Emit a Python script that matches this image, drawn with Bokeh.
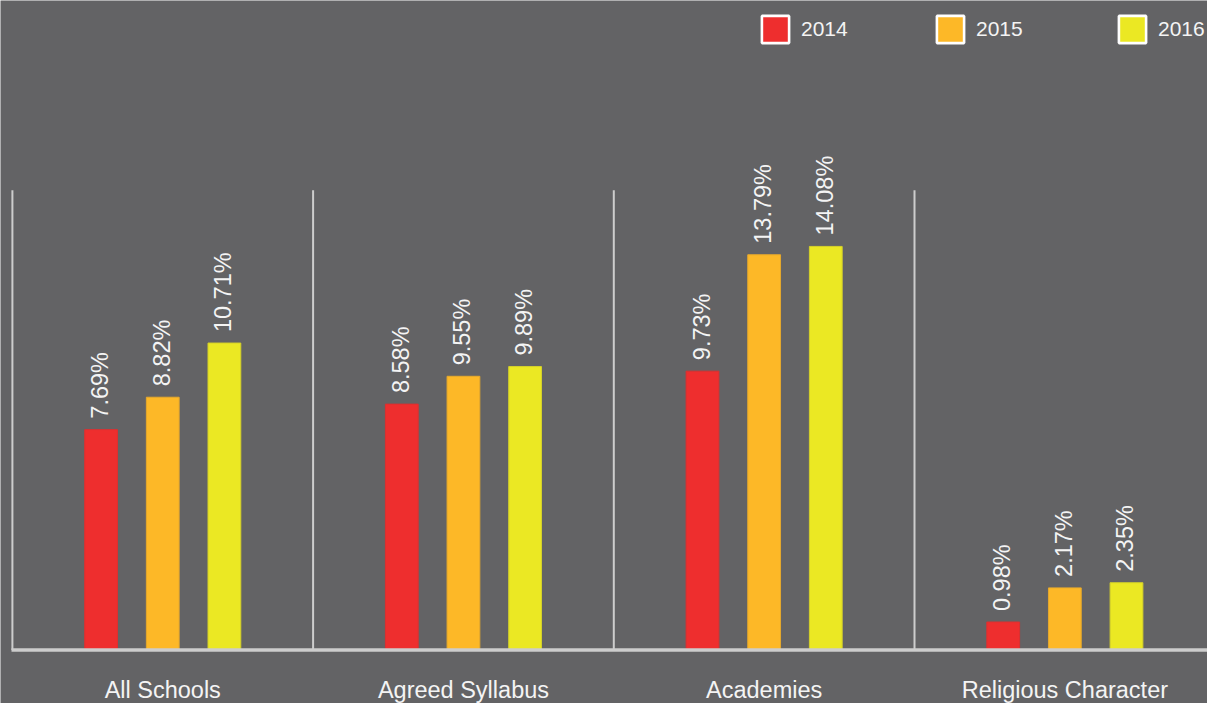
import numpy as np
from bokeh.plotting import figure
from bokeh.models import Range1d, ColumnDataSource, Legend, LegendItem
from bokeh.core.properties import value
from bokeh.embed import file_html
from bokeh.resources import INLINE

# ---- data ----
categories = ["All Schools", "Agreed Syllabus", "Academies", "Religious Character"]
years = ["2014", "2015", "2016"]
v2014 = [7.69, 8.58, 9.73, 0.98]
v2015 = [8.82, 9.55, 13.79, 2.17]
v2016 = [10.71, 9.89, 14.08, 2.35]
series = [v2014, v2015, v2016]

# ---- style ----
BG = "#636365"
colors = ["#ee2e2e", "#fdb827", "#ebe823"]
edges = ["#dc3030", "#e6a92c", "#d4d12a"]
LINE = "#cdcdcd"
TXT = "#f4f4f4"
FONT = "Liberation Sans"

W, H = 1207, 703
left_px = 11.9          # pixel position of the first group boundary
group_px = 300.7        # pixels per group
px_per_unit = 28.67     # pixels per percentage point
base_px = 649.6         # pixel row of the zero line (from top)

offsets = [-0.205, 0.0, 0.205]
bar_w = 0.109

p = figure(width=W, height=H, output_backend="svg", toolbar_location=None,
           x_range=Range1d(-left_px / group_px, (W - left_px) / group_px),
           y_range=Range1d(-(H - base_px) / px_per_unit, base_px / px_per_unit),
           x_axis_type=None, y_axis_type=None, min_border=0)
p.background_fill_color = BG
p.border_fill_color = BG
p.outline_line_color = None
p.xgrid.visible = False
p.ygrid.visible = False

# separators between groups
sep_x = [0, 1, 2, 3]
sep_top = 16.04
p.segment(x0=sep_x, y0=[0] * 4, x1=sep_x, y1=[sep_top] * 4,
          line_color=LINE, line_width=2)

centers = np.arange(len(categories)) + 0.5
for k, vals in enumerate(series):
    xs = centers + offsets[k]
    src = ColumnDataSource(dict(x=xs, top=vals,
                                lab=[f"{v:.2f}%" for v in vals]))
    p.vbar(x="x", top="top", bottom=0, width=bar_w, source=src,
           fill_color=colors[k], line_color=edges[k], line_width=1)
    p.text(x="x", y="top", text="lab", source=src, angle=np.pi / 2,
           text_align="left", text_baseline="middle", y_offset=-11, x_offset=-1,
           text_font=value(FONT), text_font_size="23.5px", text_color=TXT)

# baseline
p.segment(x0=[-0.003], y0=[0], x1=[4.1], y1=[0], line_color=LINE, line_width=3.5)

# category labels
p.text(x=centers, y=[0] * 4, text=categories, y_offset=40,
       text_align="center", text_baseline="middle",
       text_font=value(FONT), text_font_size="23.5px", text_color=TXT)

# legends (one per year, placed like the reference)
GLYPH = 34
leg_x = [758, 933, 1115]
for k, yr in enumerate(years):
    r = p.vbar(x=[np.nan], top=[np.nan], bottom=[np.nan], width=0.1,
               fill_color=colors[k], line_color="white", line_width=2.6)
    leg = Legend(items=[LegendItem(label=yr, renderers=[r])],
                 location=(leg_x[k], H - 12 - GLYPH),
                 orientation="horizontal", padding=0, margin=0, spacing=0,
                 glyph_width=GLYPH, glyph_height=GLYPH, label_height=GLYPH,
                 label_standoff=9, border_line_alpha=0,
                 background_fill_alpha=0,
                 label_text_font=FONT, label_text_font_size="21px",
                 label_text_color=TXT)
    p.add_layout(leg)

open("out.html", "w").write(file_html(p, INLINE))
